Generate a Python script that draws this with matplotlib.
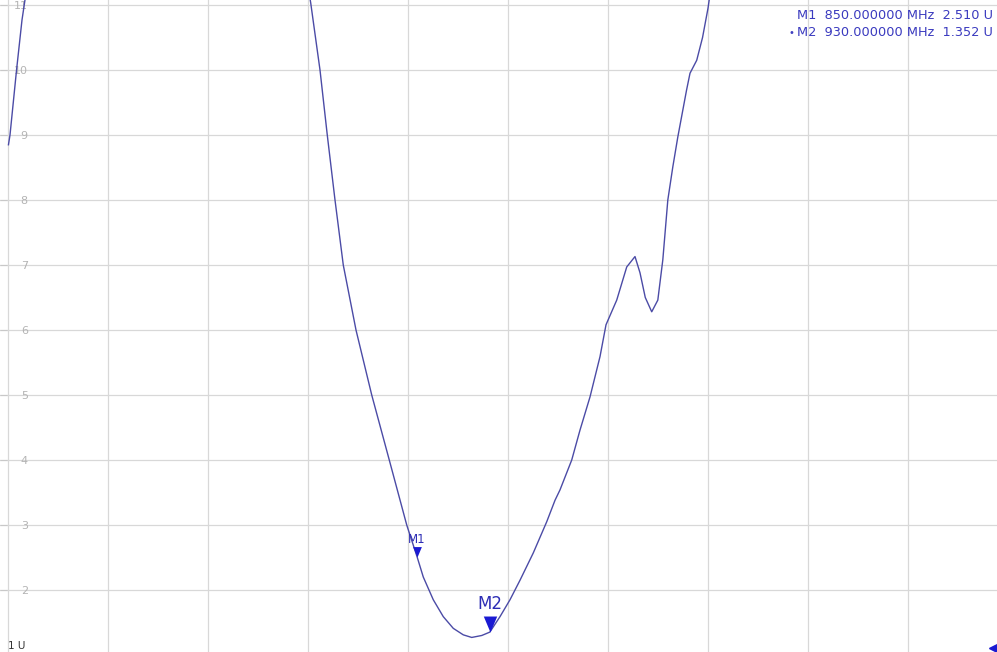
import numpy as np
import matplotlib.pyplot as plt
from matplotlib.path import Path

freq = [400.5, 402.2, 409.4, 415.4, 418.7, 430, 460, 520, 600, 680, 715, 733.0,
        743.2, 751.2, 759.7, 768.8, 782.8, 800.1, 819.4, 838.6, 850.0, 856.8,
        867.8, 878.8, 889.8, 900.8, 910.1, 921.1, 930.0, 941.2, 952.2, 963.2,
        977.8, 992.6, 1001.7, 1007.2, 1020.1, 1029.2, 1040.2, 1051.2, 1057.8,
        1069.6, 1080.6, 1089.7, 1095.2, 1101, 1108.1, 1114.8, 1120.3, 1125.8,
        1131.3, 1136.8, 1146.4, 1150.2, 1157.6, 1164, 1170.0, 1185, 1230, 1300,
        1400, 1500]
vswr = [8.85, 9.0, 10.0, 10.77, 11.08, 12.3, 13.6, 14.3, 14.5, 14.0, 12.6, 11.03,
        10.0, 9.0, 8.0, 7.0, 6.0, 5.0, 4.0, 3.0, 2.51, 2.20,
        1.85, 1.59, 1.41, 1.31, 1.27, 1.30, 1.352, 1.59, 1.85, 2.15,
        2.57, 3.05, 3.38, 3.54, 4.0, 4.46, 4.97, 5.59, 6.08,
        6.46, 6.97, 7.13, 6.88, 6.5, 6.28, 6.46, 7.08, 8.0,
        8.51, 8.97, 9.69, 9.95, 10.15, 10.5, 10.95, 12.4, 13.8, 14.6,
        15.0, 15.2]

marker_names = ["M1", "M2"]
marker_freq = [850.0, 930.0]
marker_vswr = [2.510, 1.352]

yticks = [1, 2, 3, 4, 5, 6, 7, 8, 9, 10, 11]
xgrid = [400 + 110 * k for k in range(11)]

fig = plt.figure(figsize=(9.97, 6.52), dpi=100)
ax = fig.add_axes([0, 0, 1, 1])

ax.set_xticks(xgrid)
ax.set_yticks(yticks)
ax.set_xlim(391.2, 1487.9)
ax.set_ylim(1.046, 11.077)
ax.grid(True, color='#d8d8d8', lw=0.9)
ax.set_axisbelow(True)
for s in ax.spines.values():
    s.set_visible(False)
ax.tick_params(axis='x', length=0, labelbottom=False)
ax.tick_params(axis='y', direction='in', length=5, pad=-20, color='#c8c8c8',
               labelcolor='#b4b4b4', labelsize=8)

ax.plot(freq, vswr, color='#4b4ba6', lw=1.0)

# marker triangles with the tip on the trace
tip = Path([(-0.42, 1.0), (0.42, 1.0), (0.0, 0.0), (-0.42, 1.0)])
ax.plot(marker_freq[0], marker_vswr[0], marker=tip, ms=15, color='#1a1ad2', mew=0)
ax.plot(marker_freq[1], marker_vswr[1], marker=tip, ms=23, color='#1a1ad2', mew=0)
ax.annotate(marker_names[0], (marker_freq[0], marker_vswr[0]), xytext=(0, 12.5),
            textcoords='offset points', ha='center', va='center',
            fontsize=8.5, color='#2d2db4')
ax.annotate(marker_names[1], (marker_freq[1], marker_vswr[1]), xytext=(0, 20),
            textcoords='offset points', ha='center', va='center',
            fontsize=12, color='#2d2db4')

# marker readout, top right
for i in range(len(marker_names)):
    y = 0.976 - i * 0.026
    if i == 1:
        ax.text(0.791, y, "\u2022", transform=ax.transAxes, fontsize=7,
                color='#4040c0', va='center', ha='left')
    ax.text(0.7995, y, f"{marker_names[i]}  {marker_freq[i]:.6f} MHz  {marker_vswr[i]:.3f} U",
            transform=ax.transAxes, fontsize=9.3, color='#3a3abf',
            va='center', ha='left')

ax.text(0.008, 0.002, "1 U", transform=ax.transAxes, fontsize=7.5,
        color='#333333', va='bottom', ha='left')
ax.plot([0.997], [0.006], marker='<', ms=7, color='#1a1ad2',
        transform=ax.transAxes, clip_on=False)

fig.savefig('out.png', dpi=100)
